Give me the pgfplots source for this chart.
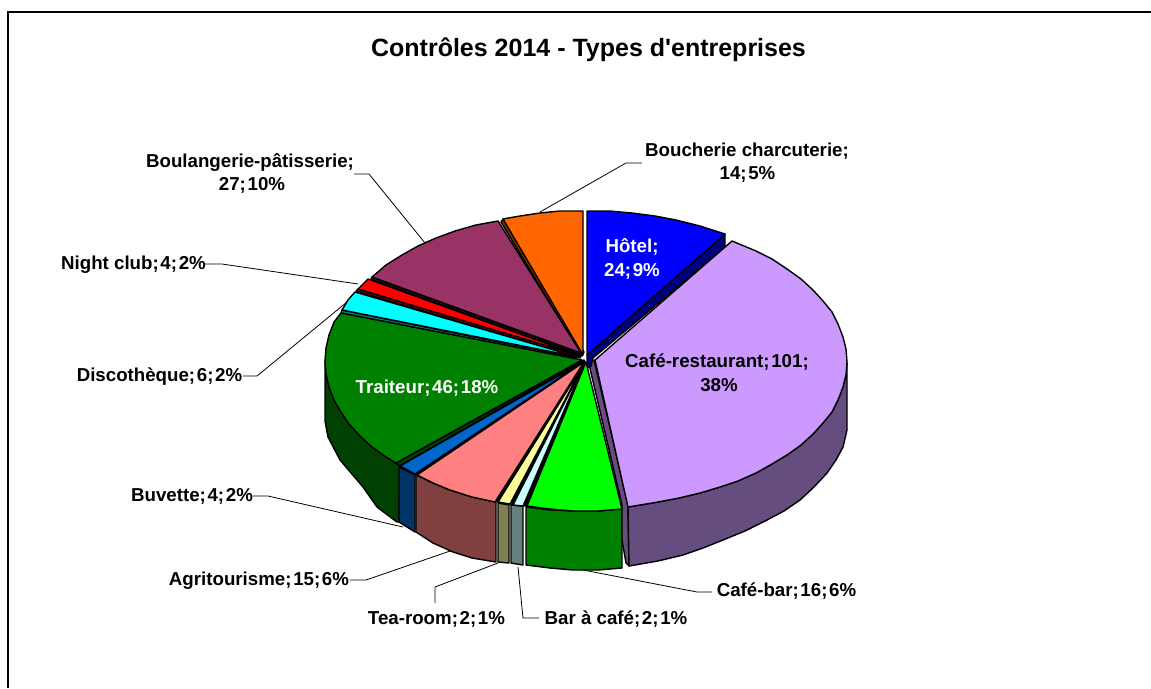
\documentclass[border=0pt]{standalone}
\usepackage{pgfplots}
\pgfplotsset{compat=1.18}
\usepackage{fontspec}
\setmainfont{Liberation Sans}
\newfontfamily\titleface{Liberation Sans}
\definecolor{lilac}{HTML}{CC99FF}
\definecolor{lilacwall}{HTML}{664D80}
\definecolor{navywall}{HTML}{000080}
\definecolor{brightgreen}{HTML}{00FF00}
\definecolor{midgreen}{HTML}{008000}
\definecolor{deepgreen}{HTML}{004000}
\definecolor{palecyan}{HTML}{CCFFFF}
\definecolor{slatewall}{HTML}{668080}
\definecolor{paleyellow}{HTML}{FFFF99}
\definecolor{olivewall}{HTML}{808050}
\definecolor{salmon}{HTML}{FF8080}
\definecolor{salmonwall}{HTML}{804040}
\definecolor{buvette}{HTML}{0066CC}
\definecolor{buvettewall}{HTML}{003366}
\definecolor{plum}{HTML}{993366}
\definecolor{plumwall}{HTML}{4D1A33}
\definecolor{tangerine}{HTML}{FF6600}
\definecolor{rust}{HTML}{803300}
\definecolor{aqua}{HTML}{00FFFF}
\definecolor{pureblue}{HTML}{0000FF}
\definecolor{purered}{HTML}{FF0000}
\definecolor{darkred}{HTML}{800000}
\definecolor{tealwall}{HTML}{008080}
\tikzset{
  slice/.style={draw=black,line width=1.4pt,line join=round,fill=#1},
  leader/.style={draw=black,line width=0.8pt},
  lab/.style={font=\fontsize{18.7}{20}\selectfont\bfseries,inner sep=0pt,anchor=base}
}
% tight separator used in the data labels
\newcommand{\sepp}{;\hspace{.09em}}
\begin{document}
\begin{tikzpicture}
\begin{axis}[
  hide axis,scale only axis,width=1151pt,height=688pt,
  xmin=0,xmax=1151,ymin=0,ymax=688,y dir=reverse,clip=true,no markers]
% page background and frame of the chart area
\addplot[draw=none,fill=white] coordinates {(0,0) (1151,0) (1151,688) (0,688)} --cycle;
\addplot[draw=black,line width=2pt] coordinates {(8,688) (8,12) (1151,12)};
% leader lines
\addplot[leader] coordinates {(540,212) (626,163) (642,163)};
\addplot[leader] coordinates {(425,243) (369,174) (354,174)};
\addplot[leader] coordinates {(358,284) (222,264) (205,264)};
\addplot[leader] coordinates {(347,302) (257,376) (243,376)};
\addplot[leader] coordinates {(403,527) (268,496) (253,496)};
\addplot[leader] coordinates {(453,550) (366,580) (350,580)};
\addplot[leader] coordinates {(498,563) (435,587) (435,603)};
\addplot[leader] coordinates {(518,567) (523,618) (539,618)};
\addplot[leader] coordinates {(583,570) (697,592) (712,592)};
% outer and inner walls
\addplot[slice=deepgreen] coordinates {(325,361) (326,374) (329,387) (334,400) (341,412) (349,424) (360,436) (372,447) (386,457) (396,463) (400,466) (399,522) (397,522) (377,507) (363,487) (340,460) (328,437) (325,421)} --cycle;
\addplot[slice=buvettewall] coordinates {(399,467) (415,475) (415,532) (399,522)} --cycle;
\addplot[slice=salmonwall] coordinates {(416,475) (433,483) (450,490) (472,497) (496,502) (496,562) (472,558) (453,552) (433,543) (416,532)} --cycle;
\addplot[slice=olivewall] coordinates {(498,503) (509,505) (509,563) (498,562)} --cycle;
\addplot[slice=slatewall] coordinates {(511,505) (523,506) (523,565) (511,563)} --cycle;
\addplot[slice=midgreen] coordinates {(526,507) (550,510) (573,511) (598,511) (622,509) (622,568) (598,570) (573,570) (550,568) (526,565)} --cycle;
\addplot[slice=lilacwall] coordinates {(588,360) (594,360) (628,505) (629,566) (626,563) (622,540) (622,505)} --cycle;
\addplot[slice=lilacwall] coordinates {(847,362) (846,375) (843,387) (838,400) (832,412) (823,423) (813,434) (801,445) (787,455) (772,464) (756,473) (738,481) (720,487) (700,493) (679,498) (658,502) (628,507) (629,566) (658,561) (683,555) (703,548) (723,540) (745,531) (767,520) (784,511) (800,500) (814,487) (827,473) (836,460) (843,447) (847,430)} --cycle;
\addplot[slice=navywall] coordinates {(587,355) (725,234) (725,247) (593,358) (591,366) (587,368)} --cycle;
% thin cut faces beneath the slices
\addplot[slice=rust] coordinates {(501,222) (503,219) (584,352) (582,356)} --cycle;
\addplot[slice=plumwall] coordinates {(371,279) (372,277) (580,354) (580,356)} --cycle;
\addplot[slice=darkred] coordinates {(356,291) (358,289) (581,356) (580,358)} --cycle;
\addplot[slice=tealwall] coordinates {(341,313) (342,310) (577,358) (577,360)} --cycle;
\addplot[slice=deepgreen] coordinates {(396,463) (400,466) (582,364) (580,362)} --cycle;
\addplot[slice=black] coordinates {(584,360) (400,466) (417,475) (498,502) (513,505) (527,506) (586,364)} --cycle;
% top faces
\addplot[slice=lilac] coordinates {(595,360) (732,241) (756,251) (772,259) (787,269) (801,279) (813,290) (823,301) (832,312) (838,324) (843,337) (846,349) (847,362) (846,375) (843,387) (838,400) (832,412) (823,423) (813,434) (801,445) (787,455) (772,464) (756,473) (738,481) (720,487) (700,493) (679,498) (658,502) (628,507)} --cycle;
\addplot[slice=pureblue] coordinates {(587,355) (587,211) (610,211) (632,213) (655,216) (676,220) (700,226) (725,234)} --cycle;
\addplot[slice=tangerine] coordinates {(583,355) (583,211) (560,211) (540,213) (520,216) (503,219)} --cycle;
\addplot[slice=plum] coordinates {(581,353) (498,221) (476,225) (455,231) (436,238) (418,246) (402,255) (386,265) (372,277)} --cycle;
\addplot[slice=purered] coordinates {(581,356) (368,279) (363,284) (358,289)} --cycle;
\addplot[slice=aqua] coordinates {(578,357) (355,292) (348,300) (342,310)} --cycle;
\addplot[slice=midgreen] coordinates {(582,360) (341,313) (334,322) (329,335) (326,348) (325,361) (326,374) (329,387) (334,400) (341,412) (349,424) (360,436) (372,447) (386,457) (396,463)} --cycle;
\addplot[slice=buvette] coordinates {(583,362) (400,466) (415,474)} --cycle;
\addplot[slice=salmon] coordinates {(584,362) (417,475) (433,483) (450,490) (472,497) (495,502)} --cycle;
\addplot[slice=paleyellow] coordinates {(585,362) (498,502) (510,504)} --cycle;
\addplot[slice=palecyan] coordinates {(585,362) (513,505) (523,506)} --cycle;
\addplot[slice=brightgreen] coordinates {(586,362) (527,506) (550,509) (573,511) (598,511) (622,509)} --cycle;
% labels
\node[font=\titleface\fontsize{25}{27}\selectfont\bfseries,inner sep=0pt,anchor=base] at (axis cs:588.5,56) {Contrôles 2014 - Types d'entreprises};
\node[lab] at (axis cs:747,156) {Boucherie charcuterie;};
\node[lab] at (axis cs:747.5,179) {14\sepp 5\%};
\node[lab] at (axis cs:250,167) {Boulangerie-pâtisserie;};
\node[lab] at (axis cs:252,190) {27\sepp 10\%};
\node[lab] at (axis cs:133.5,269) {Night club\sepp 4\sepp 2\%};
\node[lab] at (axis cs:159.5,381) {Discothèque\sepp 6\sepp 2\%};
\node[lab] at (axis cs:192,501) {Buvette\sepp 4\sepp 2\%};
\node[lab] at (axis cs:259,585) {Agritourisme\sepp 15\sepp 6\%};
\node[lab] at (axis cs:436.5,624) {Tea-room\sepp 2\sepp 1\%};
\node[lab] at (axis cs:616,624) {Bar à café\sepp 2\sepp 1\%};
\node[lab] at (axis cs:786.5,596) {Café-bar\sepp 16\sepp 6\%};
\node[lab,text=white] at (axis cs:632,252) {Hôtel;};
\node[lab,text=white] at (axis cs:632,276) {24\sepp 9\%};
\node[lab] at (axis cs:717,367) {Café-restaurant\sepp 101;};
\node[lab] at (axis cs:719,391) {38\%};
\node[lab,text=white] at (axis cs:427,393) {Traiteur\sepp 46\sepp 18\%};
\end{axis}
\end{tikzpicture}
\end{document}
